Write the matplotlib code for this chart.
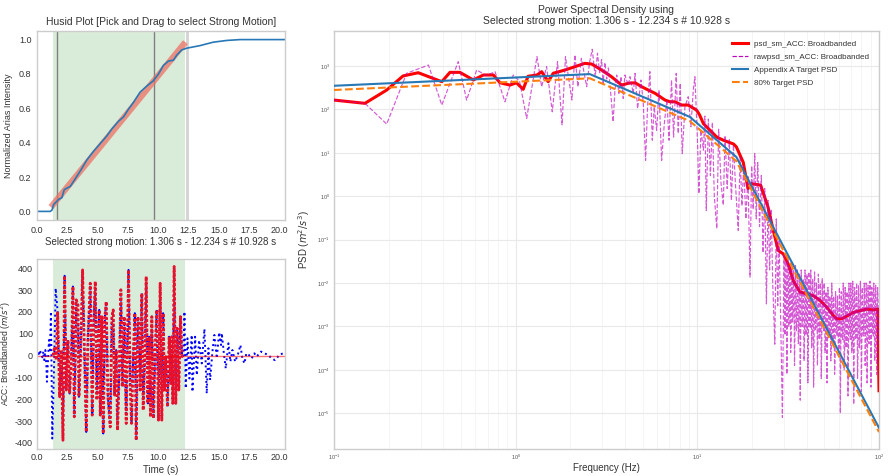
import numpy as np
import matplotlib
matplotlib.use("Agg")
import matplotlib.pyplot as plt

plt.rcParams['font.family'] = ['Liberation Sans', 'DejaVu Sans']
plt.rcParams['mathtext.fontset'] = 'dejavusans'
plt.rcParams['axes.unicode_minus'] = False

# ---------------- data ----------------
sm_start, sm_end = 1.306, 12.234
husid_marks = [1.65, 9.68]
husid_end_mark = 12.42

husid_t = [0.0, 1.10, 1.24, 1.37, 1.79, 2.06, 2.25, 2.75, 3.02, 3.43, 3.70, 4.12, 4.67,
           5.22, 5.77, 6.18, 6.73, 7.14, 7.55, 7.97, 8.24, 8.52, 9.07, 9.60, 10.03,
           10.44, 10.85, 11.26, 11.54, 11.95, 12.36, 13.46, 14.00, 14.56, 15.66, 16.76, 20.47]
husid_ai = [0.0, 0.0, 0.008, 0.04, 0.07, 0.08, 0.127, 0.146, 0.175, 0.22, 0.25, 0.30, 0.35,
            0.395, 0.44, 0.48, 0.525, 0.55, 0.595, 0.635, 0.665, 0.695, 0.73, 0.76, 0.80,
            0.85, 0.875, 0.88, 0.91, 0.94, 0.95, 0.965, 0.975, 0.985, 0.995, 1.0, 1.0]
husid_fit_t = [1.15, 12.25]
husid_fit_ai = [0.025, 0.985]

# strong-motion (selected) acceleration, local extrema
acc_sm_t = [1.319, 1.456, 1.593, 1.703, 1.868, 2.005, 2.143, 2.280, 2.418, 2.555, 2.692, 2.830,
            2.967, 3.077, 3.242, 3.379, 3.462, 3.571, 3.654, 3.764, 3.929, 4.066, 4.203, 4.396,
            4.560, 4.670, 4.808, 4.945, 5.027, 5.137, 5.220, 5.357, 5.467, 5.604, 5.714, 5.852,
            6.044, 6.181, 6.291, 6.401, 6.538, 6.648, 6.786, 6.923, 7.060, 7.198, 7.363, 7.555,
            7.692, 7.802, 7.940, 8.077, 8.187, 8.324, 8.434, 8.516, 8.654, 8.764, 8.901, 9.011,
            9.148, 9.258, 9.368, 9.478, 9.615, 9.753, 9.890, 10.027, 10.165, 10.302, 10.412,
            10.522, 10.632, 10.769, 10.907, 11.044, 11.126, 11.209, 11.319, 11.456, 11.566,
            11.703, 11.841, 11.978, 12.088]
acc_sm = [0, 40, -21, 201, -189, 25, -388, 365, -158, 71, -174, -21,
          316, -281, 255, 232, -189, -36, 132, 392, -21, -350, 79, 331,
          -273, 132, 339, -204, 41, 209, -273, 178, -357, 178, 247, -189,
          -327, 178, 209, -181, 25, -342, -82, 301, -143, 178, -311, 392,
          -128, -311, -5, 194, -388, 178, 125, -158, 285, -250, -5, 362,
          -219, 86, -281, 178, -288, 25, 209, -296, 331, -296, 194,
          -158, -5, -235, 86, -128, 86, -219, 408, -219, 125,
          -158, 178, -5, 0]

# full record: before and after the strong-motion window
acc_pre_t = [0.0, 0.082, 0.165, 0.247, 0.33, 0.44, 0.52, 0.60, 0.69, 0.77, 0.82, 0.91,
             0.99, 1.07, 1.15, 1.26, 1.43, 1.54]
acc_pre = [0, 18, -2, 25, 7, -8, 18, -21, 25, -44, -120, -21, 71, 25, 201, -380, 2, 308]
acc_post_t = [12.17, 12.28, 12.42, 12.58, 12.77, 12.83, 13.05, 13.19, 13.38, 13.60, 13.82,
              14.01, 14.15, 14.29, 14.48, 14.64, 14.84, 15.03, 15.19, 15.25, 15.44, 15.58,
              15.80, 15.96, 16.13, 16.35, 16.57, 16.79, 16.95, 17.12, 17.28, 17.50, 17.72,
              17.94, 18.13, 18.49, 18.68, 19.09, 19.37, 19.64, 20.05, 20.33]
acc_post = [201, -150, 79, -105, 94, -166, 86, -90, 71, -36, 122,
            -174, 33, -112, 18, 94, -13, 106, 48, 102, 2, -59,
            56, -28, 25, -28, 2, 48, -13, -36, 10, 2, -13,
            10, -5, 18, 13, 2, -13, -21, 5, 10]

# PSD
target_f = [0.1, 2.56, 9.1, 16.4, 100.0]
target_psd = [350, 650, 67, 8, 4.6e-6]

psd_sm_f = [0.100, 0.148, 0.195, 0.240, 0.291, 0.392, 0.435, 0.493, 0.585, 0.664, 0.754,
            0.820, 0.930, 1.01, 1.10, 1.17, 1.31, 1.39, 1.51, 1.61, 1.87, 2.12, 2.40, 2.62,
            2.97, 3.37, 3.83, 4.17, 4.54, 4.94, 5.37, 5.85, 6.64, 7.07, 7.53, 8.19, 8.91,
            9.91, 10.3, 10.8, 12.8, 13.9, 15.8, 16.4, 17.9, 19.0, 19.8, 22.3, 24.5, 26.2,
            27.9, 29.7, 31.7, 33.7, 36.7, 39.9, 43.5, 47.3, 51.5, 56.0, 58.5, 62.3, 67.8,
            72.2, 78.5, 85.5, 93.0, 98.5, 100.0]
psd_sm = [164, 138, 279, 590, 700, 435, 714, 714, 476, 620, 620,
          411, 363, 411, 290, 580, 620, 738, 435, 680, 808, 964, 1150, 1110,
          808, 565, 363, 400, 411, 333, 279, 235, 164, 150, 150, 126, 126,
          96, 74, 47, 23, 19.5, 16, 13.7, 6, 1.5, 1.95, 1.8, 0.56, 0.16,
          0.056, 0.047, 0.027, 0.0114, 0.0062, 0.0057, 0.0051, 0.004, 0.0028, 0.0018, 0.0015, 0.0015, 0.0018,
          0.0021, 0.0023, 0.0025, 0.0024, 0.0025, 3.3e-5]

raw_f = [0.100, 0.148, 0.195, 0.251, 0.331, 0.392, 0.483, 0.537, 0.610, 0.690, 0.770, 0.873,
         0.97, 1.05, 1.15, 1.31, 1.39, 1.48, 1.59, 1.70, 1.80, 1.88, 2.04, 2.12, 2.20, 2.30,
         2.46, 2.55, 2.64, 2.74, 2.82, 2.90, 2.97, 3.03, 3.10, 3.17, 3.24, 3.32, 3.44, 3.52,
         3.60, 3.70, 3.80, 3.91, 3.99, 4.17, 4.26, 4.44, 4.54, 4.69, 4.90, 5.04, 5.19, 5.32,
         5.48, 5.65, 5.79, 5.97, 6.15, 6.36, 6.58, 6.80, 6.98, 7.21, 7.40, 7.65, 7.85, 8.05,
         8.26, 8.55, 8.91, 9.22, 9.50, 9.70, 10.03, 10.2, 10.47, 10.8,
         11.0, 11.2, 11.5, 11.8, 12.1, 12.4, 12.8, 13.1, 13.5, 13.9, 14.2, 14.6, 15.0, 15.4,
         15.8, 16.2, 16.8, 17.2, 17.6, 18.0, 18.5, 19.0, 19.5, 19.9, 20.3, 20.7, 21.1, 21.5,
         22.0, 22.5, 23.0, 23.5, 24.0, 24.5, 25.0, 25.5, 26.0, 26.7, 27.2, 27.7, 28.2, 28.8,
         29.4]
raw_psd = [164, 138, 46, 680, 1050, 126, 1260, 164, 808, 600, 740, 150,
           620, 450, 62, 1640, 333, 964, 88, 1260, 44, 1640, 164, 1800, 333, 1500,
           333, 1200, 2430, 567, 1970, 700, 1400, 398, 1200, 500, 900, 300, 52, 279,
           620, 234, 567, 179, 620, 364, 567, 234, 676, 105, 475, 137, 6.7, 115,
           740, 19.5, 115, 33, 279, 6.7, 47, 164, 19.5, 475, 23, 676, 28, 398,
           9.6, 115, 196, 40, 279, 567, 16.4, 1.15, 33, 11.5,
           70, 0.47, 60, 3, 50, 1.0, 0.18, 35, 2, 0.62, 25, 1.5, 20, 0.8,
           15, 2, 0.163, 8, 0.6, 5, 0.3, 3, 0.0137, 5, 0.5, 9.6, 0.3, 6,
           0.2, 3, 0.05, 1.5, 0.0033, 0.8, 0.02, 0.5, 0.01, 3.9e-4, 0.3, 0.003, 0.1, 0.001,
           8e-6]
# dense high-frequency part (30 - 100 Hz): outer peaks / troughs
raw_psd_hf_outer = [5.0e-2, 6.3e-4, 3.2e-2, 7.9e-5, 4.0e-2, 1.0e-3, 2.5e-2, 2.5e-4, 3.2e-2, 1.26e-3,
                    2.0e-2, 1.26e-4, 2.5e-2, 7.9e-4,
                    2.0e-2, 4.0e-4, 1.6e-2, 2.0e-5, 2.0e-2, 1.0e-3, 1.26e-2, 1.6e-4, 2.0e-2, 6.3e-4,
                    1.6e-2, 5.0e-5, 1.8e-2, 1.26e-3,
                    2.0e-2, 3.2e-4, 1.26e-2, 4.0e-5, 1.8e-2, 7.9e-4, 1.0e-2, 1.26e-4, 1.6e-2, 5.0e-4,
                    1.0e-2, 6.3e-5, 1.26e-2, 1.0e-3,
                    1.0e-2, 2.5e-4, 6.3e-3, 5.0e-5, 7.9e-3, 6.3e-4, 5.0e-3, 1.6e-4, 1.0e-2, 4.0e-4,
                    5.0e-3, 7.9e-5, 6.3e-3, 7.9e-4,
                    5.0e-3, 2.0e-4, 7.9e-3, 1.0e-5, 6.3e-3, 5.0e-4, 1.0e-2, 1.0e-4, 7.9e-3, 3.2e-4,
                    6.3e-3, 2.5e-5, 1.0e-2, 6.3e-4,
                    1.0e-2, 2.5e-4, 1.1e-2, 1.6e-5, 7.9e-3, 5.0e-4, 1.0e-2, 6.3e-5, 8.9e-3, 3.2e-4,
                    1.1e-2, 3.2e-5, 7.9e-3, 6.3e-4, 1.0e-2, 1.26e-4,
                    1.0e-2, 5.0e-5, 8.9e-3, 4.0e-4, 1.1e-2, 4.0e-5, 7.9e-3, 6.3e-4, 1.0e-2, 1.6e-4,
                    8.9e-3, 7.9e-5, 7.9e-3, 5.0e-4]
# dense high-frequency part (30 - 100 Hz): inner band values
raw_psd_hf_inner = [1.2e-2, 2e-3, 8e-3, 1e-3, 1.5e-2, 1.5e-3, 9e-3, 6e-4, 1.1e-2, 2e-3, 7e-3, 8e-4, 1e-2, 1.2e-3,
                    8e-3, 1e-3, 6e-3, 5e-4, 9e-3, 1.5e-3, 5e-3, 6e-4, 7e-3, 1e-3, 5e-3, 4e-4, 6e-3, 9e-4,
                    6e-3, 8e-4, 4e-3, 4e-4, 5e-3, 1e-3, 3.5e-3, 5e-4, 5e-3, 7e-4, 3e-3, 3e-4, 4e-3, 8e-4,
                    3.5e-3, 5e-4, 2.5e-3, 3e-4, 3e-3, 6e-4, 2e-3, 2.5e-4, 3e-3, 5e-4, 2e-3, 2e-4, 2.5e-3, 6e-4,
                    2e-3, 4e-4, 3e-3, 2.5e-4, 2.5e-3, 5e-4, 3.5e-3, 3e-4, 2.5e-3, 6e-4, 3e-3, 2e-4, 3.5e-3, 5e-4,
                    3.5e-3, 4e-4, 4e-3, 3e-4, 3e-3, 6e-4, 4e-3, 2.5e-4, 3.5e-3, 5e-4, 4.5e-3, 3e-4, 3e-3, 6e-4,
                    4e-3, 4e-4,
                    4e-3, 3e-4, 3.5e-3, 5e-4, 4.5e-3, 2.5e-4, 3.5e-3, 6e-4, 4e-3, 3e-4, 3e-3, 5e-4, 3.5e-3, 4e-4]

raw_psd_hf = list(np.column_stack([raw_psd_hf_outer, raw_psd_hf_inner]).ravel())
raw_f_hf = list(np.geomspace(30.0, 100.0, len(raw_psd_hf)))

# ---------------- styling helpers ----------------
TXT = '#333333'
SPINE = '#cccccc'

def style(ax, grid=False):
    for s in ax.spines.values():
        s.set_color(SPINE)
        s.set_linewidth(1.0)
    ax.tick_params(which='both', colors=TXT, length=0, labelsize=6.5, pad=4)
    ax.set_facecolor('white')
    if grid:
        ax.grid(True, which='major', color='#e9e9e9', lw=0.8)
        ax.grid(True, which='minor', axis='x', color='#f3f3f3', lw=0.6)
        ax.set_axisbelow(True)

fig = plt.figure(figsize=(8.9, 4.76), dpi=100)
ax1 = fig.add_axes([37/890, 1-220/476, 248/890, 189/476])
ax2 = fig.add_axes([37/890, 1-449/476, 248/890, 190/476])
ax3 = fig.add_axes([334/890, 1-449/476, 545/890, 418/476])

# ---- Husid plot ----
style(ax1)
ax1.axvspan(sm_start, sm_end, color='green', alpha=0.15, lw=0)
for m in husid_marks:
    ax1.axvline(m, color='gray', lw=1)
ax1.axvline(husid_end_mark, color='lightgray', lw=2)
ax1.plot(husid_fit_t, husid_fit_ai, color='#ee6a5e', alpha=0.7, lw=4.5, solid_capstyle='butt')
ax1.plot(husid_t, husid_ai, color='#2878b5', lw=1.2)
ax1.set_xlim(0, 20.47)
ax1.set_ylim(-0.05, 1.05)
ax1.set_xticks(np.arange(0, 20.01, 2.5))
ax1.set_yticks(np.arange(0, 1.01, 0.2))
ax1.set_title('Husid Plot [Pick and Drag to select Strong Motion]', fontsize=7.5, color=TXT, pad=4)
ax1.set_ylabel('Normalized Arias Intensity', fontsize=6.5, color=TXT, labelpad=4)
ax1.set_xlabel('Selected strong motion: 1.306 s - 12.234 s # 10.928 s', fontsize=7, color=TXT, labelpad=2)

# ---- Acceleration ----
style(ax2)
ax2.tick_params(pad=3)
ax2.axvspan(sm_start, sm_end, color='green', alpha=0.15, lw=0)
full_t = acc_pre_t + [t for t in acc_sm_t if t > 1.65] + acc_post_t
full_a = acc_pre + [a for t, a in zip(acc_sm_t, acc_sm) if t > 1.65] + acc_post
ax2.plot(full_t, full_a, color='blue', ls=':', lw=1.4)
ax2.plot(acc_sm_t, acc_sm, color='#e8102a', ls=(0, (1.0, 0.7)), lw=2.0)
ax2.axhline(0, color='red', alpha=0.55, lw=1)
ax2.set_xlim(0, 20.47)
ax2.set_ylim(-428, 442)
ax2.set_xticks(np.arange(0, 20.01, 2.5))
ax2.set_yticks(np.arange(-400, 401, 100))
ax2.set_xlabel('Time (s)', fontsize=7, color=TXT, labelpad=2)
ax2.set_ylabel(r'ACC: Broadbanded ($m/s^2$)', fontsize=6.2, color=TXT)
ax2.yaxis.set_label_coords(-0.098, 0.5)

# ---- PSD ----
style(ax3, grid=True)
ax3.set_xscale('log')
ax3.set_yscale('log')
l1, = ax3.plot(psd_sm_f, psd_sm, color='red', lw=2.2, label='psd_sm_ACC: Broadbanded', zorder=3)
l2, = ax3.plot(raw_f + raw_f_hf, raw_psd + raw_psd_hf, color='m', alpha=0.65, ls='--', lw=0.85,
               label='rawpsd_sm_ACC: Broadbanded', zorder=4)
l3, = ax3.plot(target_f, target_psd, color='#2878b5', lw=1.5, label='Appendix A Target PSD', zorder=5)
l4, = ax3.plot(target_f, [0.8 * p for p in target_psd], color='#ff7f0e', ls='--', lw=1.5,
               label='80% Target PSD', zorder=5)
ax3.set_xlim(0.1, 100)
ax3.set_ylim(1.5e-6, 6.4e3)
ax3.set_yticks([10.0**k for k in range(-5, 4)])
ax3.tick_params(which='both', labelsize=4, colors='#555555', length=0, pad=3)
ax3.set_title('Power Spectral Density using\nSelected strong motion: 1.306 s - 12.234 s # 10.928 s',
              fontsize=7.5, color=TXT, pad=5, linespacing=1.1)
ax3.set_xlabel('Frequency (Hz)', fontsize=7, color=TXT, labelpad=0.5)
ax3.set_ylabel(r'PSD ($m^2/s^3$)', fontsize=7, color=TXT)
leg = ax3.legend(handles=[l1, l2, l3, l4], loc='upper right', fontsize=5.8, frameon=False,
                 handlelength=2.0, labelspacing=0.65, borderaxespad=0.8)
for t in leg.get_texts():
    t.set_color(TXT)
for h in leg.legend_handles:
    h.set_alpha(1.0)

fig.savefig('out.png', dpi=100)
